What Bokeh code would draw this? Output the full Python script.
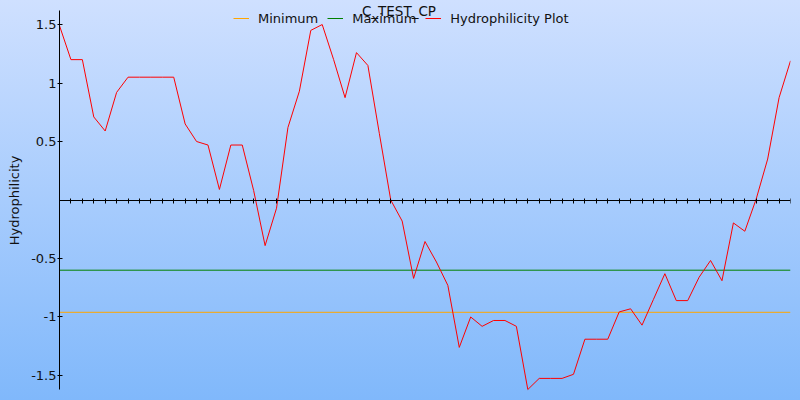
from bokeh.plotting import figure
from bokeh.models import (Range1d, LinearAxis, FixedTicker, CustomJSTickFormatter,
                          Legend, LegendItem, Label)
from bokeh.embed import file_html
from bokeh.resources import INLINE

# ---- data -------------------------------------------------------------
positions = list(range(65))
hydrophilicity = [1.49, 1.2, 1.2, 0.71, 0.59, 0.92, 1.05, 1.05, 1.05, 1.05,
                  1.05, 0.65, 0.5, 0.47, 0.09, 0.47, 0.47, 0.08, -0.39, -0.07,
                  0.62, 0.93, 1.45, 1.5, 1.2, 0.875, 1.26, 1.15, 0.57, 0.0,
                  -0.18, -0.67, -0.355, -0.53, -0.73, -1.26, -1.0, -1.08, -1.03, -1.03,
                  -1.08, -1.62, -1.525, -1.525, -1.525, -1.49, -1.19, -1.19, -1.19, -0.957,
                  -0.93, -1.07, -0.85, -0.63, -0.86, -0.86, -0.66, -0.517, -0.69, -0.196,
                  -0.267, 0.01, 0.35, 0.875, 1.19]
minimum_level = -0.96
maximum_level = -0.60
y_ticks = [-1.5, -1, -0.5, 0.5, 1, 1.5]
y_axis_bounds = (-1.62, 1.62)
series_names = ["Minimum", "Maximum", "Hydrophilicity Plot"]
title_text = "C_TEST_CP"
y_label = "Hydrophilicity"

FONT = "DejaVu Sans"
TXT = "#111111"

p = figure(width=800, height=400, output_backend="svg", toolbar_location=None,
           x_range=Range1d(0, 64), y_range=Range1d(-1.714, 1.7055),
           x_axis_location=None, y_axis_location=None,
           min_border_left=59, min_border_right=10, min_border_top=0, min_border_bottom=0,
           background_fill_color=None, border_fill_color=None, outline_line_color=None)
p.grid.visible = False

yax = LinearAxis(ticker=FixedTicker(ticks=y_ticks), bounds=y_axis_bounds,
                 formatter=CustomJSTickFormatter(code="return tick.toString()"),
                 axis_label=y_label, axis_label_text_font=FONT,
                 axis_label_text_font_size="13px", axis_label_text_font_style="normal",
                 axis_label_text_color=TXT, axis_label_standoff=6,
                 major_label_text_font=FONT, major_label_text_font_size="13px",
                 major_label_text_color=TXT, major_label_standoff=1,
                 major_tick_in=3, major_tick_out=2, minor_tick_in=0, minor_tick_out=0,
                 axis_line_color="black", major_tick_line_color="black")
p.add_layout(yax, "left")

xax = LinearAxis(fixed_location=0, ticker=FixedTicker(ticks=positions[1:]),
                 formatter=CustomJSTickFormatter(code="return ''"),
                 major_tick_in=2, major_tick_out=3, minor_tick_in=0, minor_tick_out=0,
                 major_label_standoff=0, axis_line_color="black",
                 major_tick_line_color="black")
p.add_layout(xax, "below")

r_min = p.line(x=[positions[0], positions[-1]], y=[minimum_level, minimum_level],
               line_color="#ffa500", line_width=1)
r_max = p.line(x=[positions[0], positions[-1]], y=[maximum_level, maximum_level],
               line_color="#008000", line_width=1)
r_h = p.line(x=positions, y=hydrophilicity, line_color="#ff0000", line_width=1)

legend = Legend(items=[LegendItem(label=series_names[0], renderers=[r_min]),
                       LegendItem(label=series_names[1], renderers=[r_max]),
                       LegendItem(label=series_names[2], renderers=[r_h])],
                location=(174, 374.5), orientation="horizontal", padding=0, margin=0,
                spacing=9, label_standoff=9, glyph_width=16, glyph_height=14,
                label_height=14, label_text_font=FONT, label_text_font_size="13px",
                label_text_color=TXT, background_fill_alpha=0, border_line_alpha=0)
p.add_layout(legend)

title = Label(x=29.72, y=1.62, text=title_text, text_align="center",
              text_baseline="alphabetic", text_font=FONT, text_font_size="13.5px",
              text_color=TXT)
p.add_layout(title)

html = file_html(p, INLINE, title=title_text)
html = html.replace("</head>",
                    "<style>html{background:linear-gradient(to bottom,#cfe0ff,#80b8fb);"
                    "min-height:100%;}</style></head>", 1)
open("out.html", "w").write(html)
